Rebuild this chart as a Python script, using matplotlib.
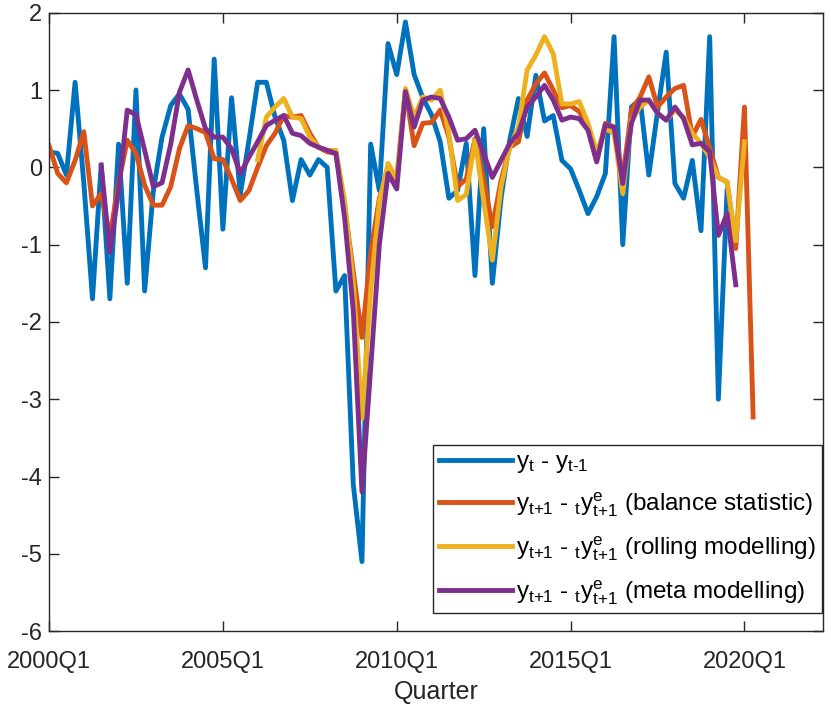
import numpy as np
import matplotlib
matplotlib.use("Agg")
import matplotlib.pyplot as plt

plt.rcParams['font.family'] = ['Liberation Sans', 'DejaVu Sans']
plt.rcParams['mathtext.fontset'] = 'custom'
plt.rcParams['mathtext.rm'] = 'Liberation Sans'
plt.rcParams['mathtext.it'] = 'Liberation Sans'
plt.rcParams['axes.unicode_minus'] = False

# quarter index 0 = 2000Q1
tick_pos = [0, 20, 40, 60, 80]
tick_labels = ['2000Q1', '2005Q1', '2010Q1', '2015Q1', '2020Q1']

actual = [0.2, 0.18, -0.1, 1.1, -0.2, -1.7, 0.03, -1.7, 0.3, -1.5,
          1.0, -1.6, -0.3, 0.39, 0.8, 0.95, 0.75, -0.3, -1.3, 1.4,
          -0.8, 0.9, -0.35, 0.35, 1.1, 1.1, 0.65, 0.35, -0.43, 0.1,
          -0.1, 0.1, 0.0, -1.6, -1.4, -4.1, -5.1, 0.3, -0.3, 1.6,
          1.2, 1.88, 1.2, 0.9, 0.68, 0.33, -0.4, -0.3, 0.31, -1.4,
          0.5, -1.5, -0.4, 0.35, 0.89, 0.4, 1.19, 0.6, 0.67, 0.09,
          -0.02, -0.3, -0.6, -0.38, -0.08, 1.69, -1.0, 0.78, 0.88, -0.1,
          0.72, 1.49, -0.21, -0.4, 0.09, -0.82, 1.69, -3.0, -0.3]

balance = [0.28, -0.08, -0.2, 0.09, 0.46, -0.5, -0.34, -0.9, -0.2, 0.35,
           0.18, -0.23, -0.49, -0.49, -0.25, 0.24, 0.54, 0.5, 0.45, 0.11,
           0.1, -0.15, -0.43, -0.3, 0.0, 0.28, 0.44, 0.67, 0.65, 0.67,
           0.44, 0.26, 0.2, 0.18, -0.5, -1.35, -2.2, -1.1, -0.4, -0.05,
           -0.15, 1.0, 0.28, 0.57, 0.58, 0.74, 0.39, -0.25, -0.15, 0.37,
           -0.15, -0.77, -0.17, 0.26, 0.33, 0.87, 1.08, 1.22, 1.0, 0.77,
           0.8, 0.72, 0.52, 0.09, 0.57, 0.52, -0.13, 0.74, 0.91, 1.17,
           0.78, 0.91, 1.02, 1.06, 0.4, 0.62, 0.25, -0.13, -0.19, -1.05,
           0.78, -3.23]

rolling_start = 24
rolling = [0.1, 0.65, 0.78, 0.89, 0.65, 0.63, 0.39, 0.26, 0.22, 0.22,
           -0.43, -1.5, -3.25, -1.6, -0.45, 0.05, -0.15, 1.02, 0.65, 0.91,
           0.87, 1.0, 0.44, -0.43, -0.35, 0.35, -0.43, -1.2, -0.25, 0.26,
           0.52, 1.26, 1.45, 1.69, 1.47, 0.82, 0.82, 0.85, 0.57, 0.2,
           0.5, 0.44, -0.34, 0.61, 0.78, 0.87, 0.7, 0.61, 0.74, 0.65,
           0.44, 0.31, 0.13, -0.13, -0.19, -0.95, 0.33]

meta_start = 6
meta = [0.03, -1.1, -0.3, 0.74, 0.68, 0.22, -0.25, -0.2, 0.3, 0.97,
        1.26, 0.87, 0.5, 0.39, 0.39, 0.24, -0.08, 0.13, 0.33, 0.54,
        0.61, 0.67, 0.44, 0.41, 0.31, 0.26, 0.22, 0.18, -0.65, -1.85,
        -4.2, -2.6, -1.0, -0.08, -0.28, 0.98, 0.52, 0.87, 0.91, 0.89,
        0.65, 0.35, 0.37, 0.48, 0.18, -0.13, 0.09, 0.31, 0.44, 0.78,
        0.91, 1.06, 0.87, 0.61, 0.65, 0.63, 0.48, 0.07, 0.55, 0.52,
        -0.21, 0.57, 0.87, 0.87, 0.7, 0.61, 0.78, 0.63, 0.29, 0.31,
        0.2, -0.88, -0.6, -1.52]

labels = ['y$_{t}$ - y$_{t\u20101}$',
          'y$_{t{+}1}$ - $_{t}$y$^{e}_{t{+}1}$ (balance statistic)',
          'y$_{t{+}1}$ - $_{t}$y$^{e}_{t{+}1}$ (rolling modelling)',
          'y$_{t{+}1}$ - $_{t}$y$^{e}_{t{+}1}$ (meta modelling)']
colors = ['#0072BD', '#D95319', '#EDB120', '#7E2F8E']

fig = plt.figure(figsize=(8.31, 7.06), dpi=100)
ax = fig.add_axes([0.059, 0.106, 0.931, 0.876])

lw = 3.5
ax.plot(np.arange(len(actual)), actual, color=colors[0], lw=lw, label=labels[0])
ax.plot(np.arange(len(balance)), balance, color=colors[1], lw=lw, label=labels[1])
ax.plot(np.arange(len(rolling)) + rolling_start, rolling, color=colors[2], lw=lw, label=labels[2])
ax.plot(np.arange(len(meta)) + meta_start, meta, color=colors[3], lw=lw, label=labels[3])

ax.set_xlim(0, 89)
ax.set_ylim(-6, 2)
ax.set_xticks(tick_pos)
ax.set_xticklabels(tick_labels)
ax.set_yticks(range(-6, 3))
ax.set_yticklabels([str(v) for v in range(-6, 3)])

gray = '#262626'
for s in ax.spines.values():
    s.set_color(gray)
    s.set_linewidth(1.0)
ax.tick_params(direction='in', length=7, width=1, colors=gray, labelsize=17,
               top=True, right=True)
ax.tick_params(axis='x', pad=14)
ax.tick_params(axis='y', pad=5)
ax.set_xlabel('Quarter', fontsize=18, color=gray, labelpad=5)

leg = ax.legend(loc='lower right', bbox_to_anchor=(0.999, 0.03), borderaxespad=0,
                fontsize=17.5, handlelength=3.0, labelspacing=0.62, handletextpad=0.15,
                fancybox=False, framealpha=1, edgecolor=gray, borderpad=0.25)
leg.get_frame().set_linewidth(1.0)

fig.savefig('out.png', dpi=100)
